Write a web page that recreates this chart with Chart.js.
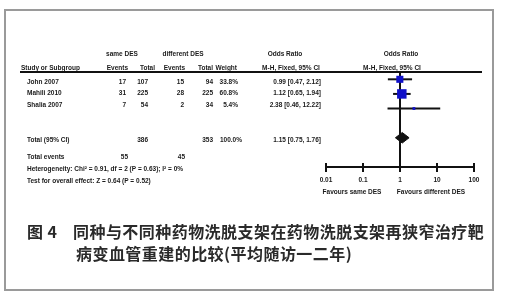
<!DOCTYPE html>
<html>
<head>
<meta charset="utf-8">
<script src="https://cdn.jsdelivr.net/npm/chart.js@4/dist/chart.umd.min.js"></script>
<style>
  html, body { margin: 0; padding: 0; background: #fff; }
  #wrap { position: relative; width: 508px; height: 300px; overflow: hidden; background: #fff; }
  #frame { position: absolute; left: 4px; top: 9px; width: 490px; height: 282px; border: 2px solid #9a9a9a; box-sizing: border-box; }
  #forest { position: absolute; left: 0; top: 0; }
  .cap { position: absolute; font-family: "Noto Sans CJK SC", sans-serif; font-weight: bold; font-size: 16px;
         line-height: 20px; color: #2a2a2a; white-space: nowrap; letter-spacing: 0.45px; }
</style>
</head>
<body>
<div id="wrap">
  <div id="frame"></div>
  <canvas id="forest" width="508" height="300"></canvas>
  <div class="cap" style="left:27px; top:221px;">图 4</div>
  <div class="cap" style="left:73px; top:221px;">同种与不同种药物洗脱支架在药物洗脱支架再狭窄治疗靶</div>
  <div class="cap" style="left:76px; top:243px;">病变血管重建的比较(平均随访一二年)</div>
</div>
<script>
// Study-level data
const studies     = ['John 2007', 'Mahili 2010', 'Shalia 2007'];
const sameEvents  = [17, 31, 7];
const sameTotal   = [107, 225, 54];
const diffEvents  = [15, 28, 2];
const diffTotal   = [94, 225, 34];
const weights     = [33.8, 60.8, 5.4];
const oddsRatio   = [0.99, 1.12, 2.38];
const ciLow       = [0.47, 0.65, 0.46];
const ciHigh      = [2.12, 1.94, 12.22];

// Pooled (M-H, fixed) estimate
const pooledOR    = 1.15;
const pooledLow   = 0.75;
const pooledHigh  = 1.76;

// Axis ticks of the odds-ratio scale
const axisTicks   = [0.01, 0.1, 1, 10, 100];

const heterogeneityText = 'Heterogeneity: Chi\u00b2 = 0.91, df = 2 (P = 0.63); I\u00b2 = 0%';
const overallEffectText = 'Test for overall effect: Z = 0.64 (P = 0.52)';

const sum = a => a.reduce((s, v) => s + v, 0);
const fmtOR = (o, l, h) => o.toFixed(2) + ' [' + l.toFixed(2) + ', ' + h.toFixed(2) + ']';

// Row positions on the hidden vertical scale
const studyRow  = studies.map((_, i) => i + 1);
const pooledRow = 5;
const axisRow   = 7;

const INK = '#111';
const BLUE = '#1010c8';
const FONT = '"Liberation Sans", Arial, sans-serif';

const datasets = [];

// Squares sized by weight
datasets.push({
  data: oddsRatio.map((o, i) => ({ x: o, y: studyRow[i] })),
  pointStyle: 'rect',
  pointRadius: weights.map(w => 0.86 * Math.sqrt(w)),
  backgroundColor: BLUE, borderWidth: 0, order: 0, clip: false
});

// Pooled diamond
const dh = 0.36;
datasets.push({
  data: [
    { x: pooledLow, y: pooledRow }, { x: pooledOR, y: pooledRow - dh },
    { x: pooledHigh, y: pooledRow }, { x: pooledOR, y: pooledRow + dh },
    { x: pooledLow, y: pooledRow }
  ],
  showLine: true, fill: 'shape', backgroundColor: INK, borderColor: INK, borderWidth: 1,
  pointRadius: 0, tension: 0, order: 1, clip: false
});

// Confidence-interval whiskers
studies.forEach((_, i) => {
  datasets.push({
    data: [{ x: ciLow[i], y: studyRow[i] }, { x: ciHigh[i], y: studyRow[i] }],
    showLine: true, borderColor: INK, borderWidth: 2, pointRadius: 0, order: 2, clip: false
  });
});

// Line of no effect
datasets.push({
  data: [{ x: 1, y: 0.5 }, { x: 1, y: axisRow }],
  showLine: true, borderColor: INK, borderWidth: 2, pointRadius: 0, order: 3, clip: false
});

// Table text, header rule, axis tick marks and favour labels
const tablePlugin = {
  id: 'forestTable',
  afterDraw(chart) {
    const ctx = chart.ctx;
    const xs = chart.scales.x;
    ctx.save();
    ctx.fillStyle = '#1a1a1a';
    ctx.textBaseline = 'middle';
    ctx.font = 'bold 6.5px ' + FONT;

    const text = (t, x, y, align) => { ctx.textAlign = align || 'left'; ctx.fillText(t, x, y); };

    // group headings
    text('same DES', 122, 54, 'center');
    text('different DES', 183, 54, 'center');
    text('Odds Ratio', 285, 54, 'center');
    text('Odds Ratio', 401, 54, 'center');

    // column headings
    const yh = 68;
    text('Study or Subgroup', 21, yh);
    text('Events', 128, yh, 'right');
    text('Total', 155, yh, 'right');
    text('Events', 185, yh, 'right');
    text('Total', 213, yh, 'right');
    text('Weight', 237, yh, 'right');
    text('M-H, Fixed, 95% CI', 291, yh, 'center');
    text('M-H, Fixed, 95% CI', 392, yh, 'center');

    // header rule
    ctx.fillStyle = INK;
    ctx.fillRect(20, 71, 462, 2);
    ctx.fillStyle = '#1a1a1a';

    // study rows
    const rowY = [82, 93.5, 105];
    studies.forEach((s, i) => {
      const y = rowY[i];
      text(s, 27, y);
      text(String(sameEvents[i]), 126, y, 'right');
      text(String(sameTotal[i]), 148, y, 'right');
      text(String(diffEvents[i]), 184, y, 'right');
      text(String(diffTotal[i]), 213, y, 'right');
      text(weights[i].toFixed(1) + '%', 238, y, 'right');
      text(fmtOR(oddsRatio[i], ciLow[i], ciHigh[i]), 321, y, 'right');
    });

    // totals
    const yt = 140;
    text('Total (95% CI)', 27, yt);
    text(String(sum(sameTotal)), 148, yt, 'right');
    text(String(sum(diffTotal)), 213, yt, 'right');
    text(sum(weights).toFixed(1) + '%', 242, yt, 'right');
    text(fmtOR(pooledOR, pooledLow, pooledHigh), 321, yt, 'right');

    text('Total events', 27, 157);
    text(String(sum(sameEvents)), 128, 157, 'right');
    text(String(sum(diffEvents)), 185, 157, 'right');
    text(heterogeneityText, 27, 169);
    text(overallEffectText, 27, 181);

    // tick marks across the axis line
    const yb = chart.chartArea.bottom;
    ctx.fillStyle = INK;
    axisTicks.forEach(v => {
      const px = Math.round(xs.getPixelForValue(v));
      ctx.fillRect(px - 1, yb - 4, 2, 9);
    });

    // favour labels
    ctx.fillStyle = '#1a1a1a';
    text('Favours same DES', 352, 192, 'center');
    text('Favours different DES', 431, 192, 'center');
    ctx.restore();
  }
};

new Chart(document.getElementById('forest'), {
  type: 'scatter',
  data: { datasets },
  options: {
    responsive: false,
    animation: false,
    events: [],
    layout: { padding: { left: 326, right: 34, top: 72, bottom: 113 } },
    plugins: { legend: { display: false }, tooltip: { enabled: false } },
    scales: {
      x: {
        type: 'logarithmic', min: 0.01, max: 100, position: 'bottom',
        grid: { display: false, drawTicks: false, tickLength: 0 },
        border: { display: true, color: INK, width: 2 },
        afterBuildTicks: s => { s.ticks = axisTicks.map(v => ({ value: v })); },
        afterFit: s => { s.height = 20; },
        ticks: {
          autoSkip: false, maxRotation: 0, padding: 9, color: '#1a1a1a',
          font: { family: FONT, size: 6.5, weight: 'bold' },
          callback: v => String(v)
        }
      },
      y: {
        type: 'linear', min: 0.5, max: axisRow, reverse: true, display: false
      }
    }
  },
  plugins: [tablePlugin]
});
</script>
</body>
</html>
